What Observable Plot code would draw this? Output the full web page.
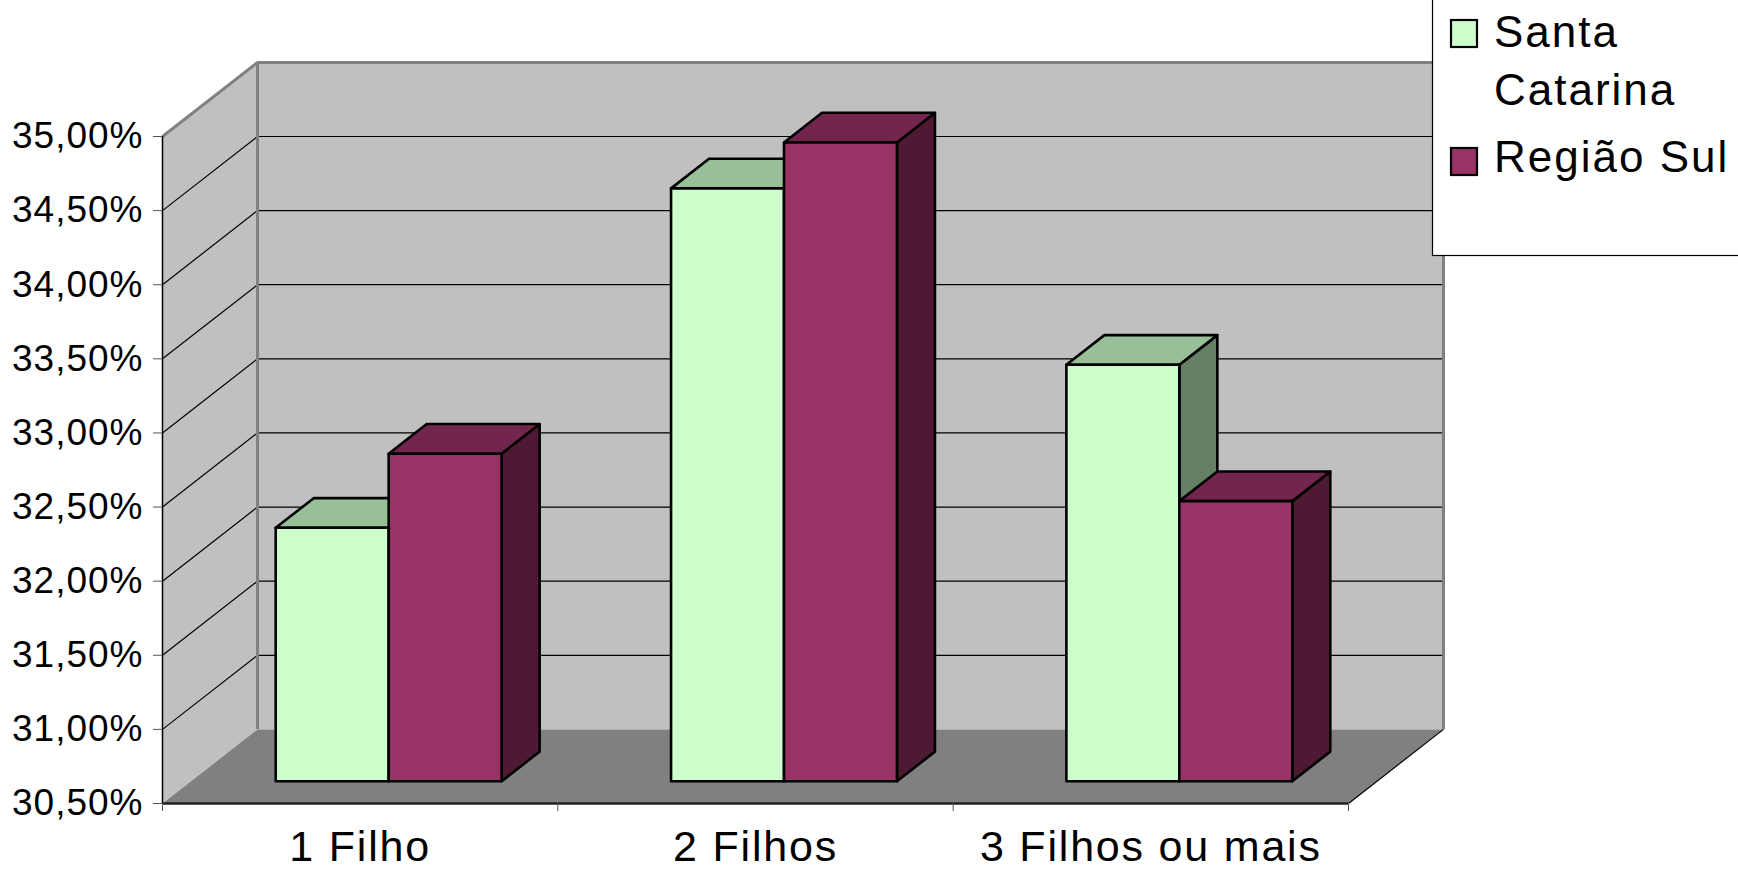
<!DOCTYPE html>
<html>
<head>
<meta charset="utf-8">
<script src="https://cdn.jsdelivr.net/npm/d3@7"></script>
<script src="https://cdn.jsdelivr.net/npm/@observablehq/plot@0.6"></script>
<style>
  html, body { margin: 0; padding: 0; background: white; }
  #wrap { position: relative; width: 1738px; height: 872px; overflow: hidden; }
  #wrap svg text { font-family: "Liberation Sans", Arial, sans-serif; }
  #wrap [aria-label="x-axis tick label"] text { letter-spacing: 1.8px; }
  #wrap [aria-label="y-axis tick label"] text { letter-spacing: 1px; }
  #legend { position: absolute; left: 0; top: 0; pointer-events: none; }
</style>
</head>
<body>
<div id="wrap"></div>
<script>
// ---- data ----
const categories = ["1 Filho", "2 Filhos", "3 Filhos ou mais"];
const seriesNames = ["Santa Catarina", "Região Sul"];
const santaCatarina = [32.21, 34.50, 33.31];
const regiaoSul = [32.71, 34.81, 32.39];
const yTicks = [30.5, 31, 31.5, 32, 32.5, 33, 33.5, 34, 34.5, 35];
const seriesColors = {
  front: ["#CCFFCC", "#993366"],
  top: ["#99BF99", "#73264D"],
  side: ["#668066", "#4D1933"]
};

// ---- 3D projection (oblique) in data units ----
const n = categories.length;
const yMin = yTicks[0], yMax = yTicks[yTicks.length - 1];
const DX = 0.2403;   // category units per full depth
const DY = 0.5;      // value units per full depth
const d0 = 0.3, d1 = 0.7;            // bar depth span
const barWidth = 1 / 3.5;            // gap width 150%
const barStart = [0.75 / 3.5, 0.5];  // per series offset inside category

const proj = (pts, id) => pts.map(([x, v, d]) => ({id, x: x + DX * d, y: v + DY * d}));

function barFaces(vals, s) {
  const out = {front: [], top: [], side: []};
  vals.forEach((v, i) => {
    const x0 = i + barStart[s], x1 = x0 + barWidth;
    out.front.push(...proj([[x0, yMin, d0], [x1, yMin, d0], [x1, v, d0], [x0, v, d0]], i));
    out.top.push(...proj([[x0, v, d0], [x1, v, d0], [x1, v, d1], [x0, v, d1]], i));
    out.side.push(...proj([[x1, yMin, d0], [x1, v, d0], [x1, v, d1], [x1, yMin, d1]], i));
  });
  return out;
}

const backWall = proj([[0, yMin, 1], [n, yMin, 1], [n, yMax, 1], [0, yMax, 1]], "back");
const leftWall = proj([[0, yMin, 0], [0, yMax, 0], [0, yMax, 1], [0, yMin, 1]], "left");
const floor = proj([[0, yMin, 0], [n, yMin, 0], [n, yMin, 1], [0, yMin, 1]], "floor");

const poly = (data, fill, stroke = "none", sw = 0) =>
  Plot.line(data, {x: "x", y: "y", z: "id", curve: "linear-closed", fill, stroke, strokeWidth: sw});

const barMarks = [];
[santaCatarina, regiaoSul].forEach((vals, s) => {
  const f = barFaces(vals, s);
  barMarks.push(poly(f.side, seriesColors.side[s], "black", 2.6));
  barMarks.push(poly(f.top, seriesColors.top[s], "black", 2.6));
  barMarks.push(poly(f.front, seriesColors.front[s], "black", 2.6));
});

const inner = yTicks.slice(1, -1);
const fmt = v => v.toFixed(2).replace(".", ",") + "%";

const chart = Plot.plot({
  width: 1738,
  height: 872,
  marginLeft: 162,
  marginRight: 390,
  marginTop: 136,
  marginBottom: 69,
  x: {type: "linear", domain: [0, n]},
  y: {domain: [yMin, yMax]},
  style: {background: "white", overflow: "visible", fontFamily: "'Liberation Sans', Arial, sans-serif"},
  marks: [
    poly(backWall, "#C0C0C0"),
    poly(leftWall, "#C0C0C0"),
    poly(floor, "#808080"),
    Plot.ruleY(inner, {y: v => v + DY, x1: DX, x2: n + DX, stroke: "black", strokeWidth: 1.2}),
    Plot.link(inner, {x1: 0, y1: v => v, x2: DX, y2: v => v + DY, stroke: "black", strokeWidth: 1.2}),
    Plot.link([0], {x1: 0, y1: yMax, x2: DX, y2: yMax + DY, stroke: "#808080", strokeWidth: 3}),
    Plot.ruleY([yMax + DY], {x1: DX, x2: n + DX, stroke: "#808080", strokeWidth: 3}),
    Plot.ruleX([DX, n + DX], {y1: yMin + DY, y2: yMax + DY, stroke: "#808080", strokeWidth: 3}),
    Plot.link([0], {x1: n, y1: yMin, x2: n + DX, y2: yMin + DY, stroke: "black", strokeWidth: 1.2}),
    Plot.ruleX([0], {y1: yMin, y2: yMax, stroke: "black", strokeWidth: 1.5}),
    Plot.ruleY([yMin], {x1: 0, x2: n, stroke: "#222", strokeWidth: 2.5}),
    Plot.axisY({ticks: yTicks, tickFormat: fmt, tickSize: 9, tickPadding: 10, fontSize: 37, stroke: "#555", label: null}),
    Plot.axisX({ticks: d3.range(n + 1), tickSize: 8, tickFormat: () => "", stroke: "#555", label: null}),
    Plot.axisX({ticks: categories.map((c, i) => i + 0.5), tickSize: 0, tickPadding: 27,
      tickFormat: v => categories[Math.floor(v)], fontSize: 43, label: null}),
    ...barMarks
  ]
});

const wrap = document.getElementById("wrap");
wrap.appendChild(chart);

// ---- legend (overlay) ----
const lg = d3.select(wrap).append("svg").attr("id", "legend")
  .attr("width", 1738).attr("height", 872);
lg.append("rect").attr("x", 1432.5).attr("y", -10).attr("width", 320).attr("height", 265.5)
  .attr("fill", "white").attr("stroke", "black").attr("stroke-width", 1.2);
const legendItems = [
  {lines: ["Santa", "Catarina"], sq: 20, base: [47, 105]},
  {lines: ["Região Sul"], sq: 148, base: [172]}
];
legendItems.forEach((it, s) => {
  lg.append("rect").attr("x", 1451).attr("y", it.sq).attr("width", 26).attr("height", 27)
    .attr("fill", seriesColors.front[s]).attr("stroke", "black").attr("stroke-width", 2.2);
  it.lines.forEach((t, j) => {
    lg.append("text").attr("x", 1494).attr("y", it.base[j])
      .attr("font-size", 44).attr("letter-spacing", "2px").attr("fill", "black")
      .style("font-family", "'Liberation Sans', Arial, sans-serif").text(t);
  });
});
</script>
</body>
</html>
